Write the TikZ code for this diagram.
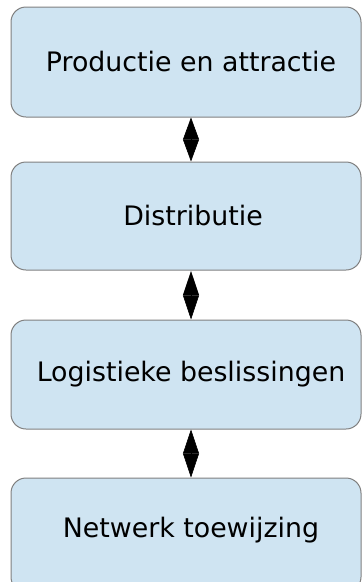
\documentclass[tikz,border=0pt]{standalone}
\usepackage{fontspec}
\setmainfont{DejaVu Sans}
\usetikzlibrary{arrows.meta}
\begin{document}
\begin{tikzpicture}[x=1pt,y=-1pt,
  stage/.style={draw=black!50, line width=1pt, fill=boxblue, rounded corners=15pt},
  label/.style={font=\fontsize{26.8}{30}\selectfont, text=black, inner sep=0pt},
  link/.style={line width=0.6pt, {Triangle[length=#1,width=16pt]}-{Triangle[length=#1,width=16pt]}}]
\definecolor{boxblue}{HTML}{CFE4F2}
\useasboundingbox (0,0) rectangle (362,582);
% four stages
\draw[stage] (11,7) rectangle (361,117);
\draw[stage] (11,162) rectangle (361,270);
\draw[stage] (11,320) rectangle (361,429);
\draw[stage] (11,478) rectangle (361,592);
\node[label] (s1) at (191,62) {Productie en attractie};
\node[label] (s2) at (193,216) {Distributie};
\node[label] (s3) at (191,374.5) {Logistieke beslissingen};
\node[label] (s4) at (191,530) {Netwerk toewijzing};
% links between stages
\coordinate (a1) at (191,117.5);
\coordinate (b1) at (191,161.5);
\coordinate (a2) at (191,271);
\coordinate (b2) at (191,319.5);
\coordinate (a3) at (191,429.5);
\coordinate (b3) at (191,477.5);
\draw[link=22pt] (a1) -- (b1);
\draw[link=24.2pt] (a2) -- (b2);
\draw[link=24pt] (a3) -- (b3);
\end{tikzpicture}
\end{document}
